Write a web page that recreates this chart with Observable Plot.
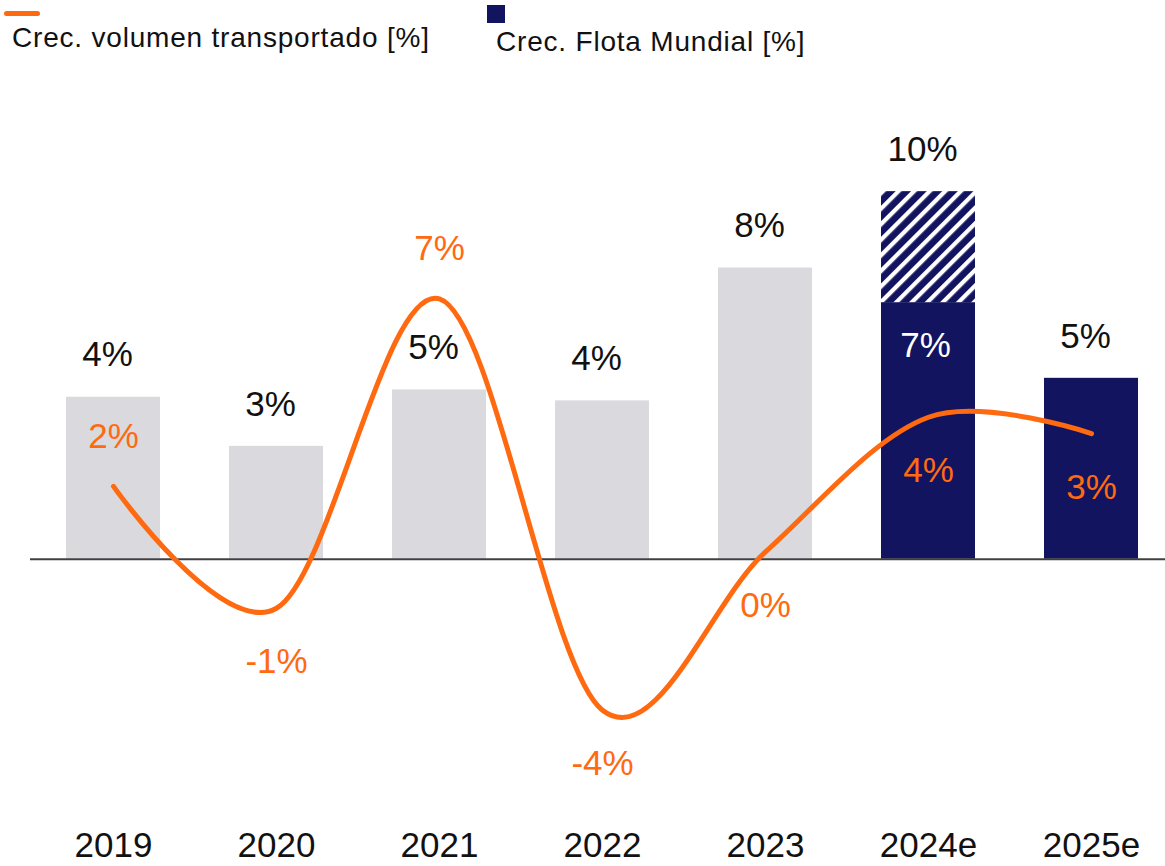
<!DOCTYPE html>
<html><head><meta charset="utf-8">
<script src="https://cdn.jsdelivr.net/npm/d3@7"></script>
<script src="https://cdn.jsdelivr.net/npm/@observablehq/plot@0.6"></script>
<style>
body{margin:0;background:#fff;font-family:"Liberation Sans",Arial,sans-serif;}
#legend{position:relative;height:60px;width:1165px;color:#111;}
#legend span{position:absolute;display:block;white-space:nowrap;}
.sw-line{left:4px;top:11px;width:36px;height:5px;background:#FF6A10;border-radius:3px;}
.sw-sq{left:487px;top:5px;width:18px;height:18px;background:#12145F;}
.lab{font-size:28px;line-height:28px;letter-spacing:0.8px;}
.lab1{left:12px;top:24px;}
.lab2{left:496px;top:28px;}
</style></head><body>
<div id="legend">
  <span class="sw-line"></span><span class="lab lab1">Crec. volumen transportado [%]</span>
  <span class="sw-sq"></span><span class="lab lab2">Crec. Flota Mundial [%]</span>
</div>
<div id="chart"></div>
<script>
const years = ["2019", "2020", "2021", "2022", "2023", "2024e", "2025e"];
const fleetGrowth = [4.45, 3.1, 4.65, 4.35, 8.0, 7.05, 4.97];
const fleetUpside = [null, null, null, null, null, 10.1, null];
const volumeGrowth = [2.0, -1.35, 7.15, -4.15, 0.2, 3.9, 3.45];
const isEstimate = [false, false, false, false, false, true, true];
const volumeLabelSide = ["above", "below", "above", "below", "below", "below", "below"];

const navy = "#12145F", gray = "#D9D9DE", orange = "#FF6A10";
const fmt = v => Math.round(v) + "%";

const bars = years.map((y, i) => ({year: y, value: fleetGrowth[i], est: isEstimate[i], upside: fleetUpside[i]}));
const upside = bars.filter(d => d.upside != null);
const topLabels = bars.map(d => ({year: d.year, top: d.upside != null ? d.upside : d.value}));
const innerLabels = upside.map(d => ({year: d.year, value: d.value}));
const volume = years.map((y, i) => ({year: y, value: volumeGrowth[i], side: volumeLabelSide[i]}));

const svg = Plot.plot({
  width: 1165,
  height: 806,
  marginLeft: 30,
  marginRight: 0,
  marginTop: 62,
  marginBottom: 89,
  style: {fontFamily: "'Liberation Sans', Arial, sans-serif", fontSize: "35px", color: "#111", background: "#fff"},
  x: {domain: years, paddingInner: 0.424, paddingOuter: 0.19, align: 0.565, label: null},
  y: {domain: [-6, 12], axis: null},
  marks: [
    Plot.barY(bars.filter(d => !d.est), {x: "year", y: "value", fill: gray}),
    Plot.barY(bars.filter(d => d.est), {x: "year", y: "value", fill: navy}),
    Plot.barY(upside, {x: "year", y1: "value", y2: "upside", fill: "url(#hatch)"}),
    Plot.ruleY([0], {stroke: "#404040", strokeWidth: 2}),
    Plot.lineY(volume, {x: "year", y: "value", curve: "cardinal", stroke: orange, strokeWidth: 5, strokeLinecap: "round"}),
    Plot.text(topLabels, {x: "year", y: "top", text: d => fmt(d.top), dy: -42, dx: -6, fill: "#111", fontSize: 35}),
    Plot.text(innerLabels, {x: "year", y: "value", text: d => fmt(d.value), dy: 43, dx: -3, fill: "#fff", fontSize: 35}),
    Plot.text(volume.filter(d => d.side === "above"), {x: "year", y: "value", text: d => fmt(d.value), dy: -50, fill: orange, fontSize: 35}),
    Plot.text(volume.filter(d => d.side === "below"), {x: "year", y: "value", text: d => fmt(d.value), dy: 54, fill: orange, fontSize: 35}),
    Plot.axisX({tickSize: 0, tickPadding: 55, fontSize: 35, fill: "#111", label: null})
  ]
});

const ns = "http://www.w3.org/2000/svg";
const defs = document.createElementNS(ns, "defs");
const pat = document.createElementNS(ns, "pattern");
pat.setAttribute("id", "hatch");
pat.setAttribute("patternUnits", "userSpaceOnUse");
pat.setAttribute("width", "11");
pat.setAttribute("height", "11");
pat.setAttribute("patternTransform", "rotate(45)");
const r = document.createElementNS(ns, "rect");
r.setAttribute("width", "11"); r.setAttribute("height", "11"); r.setAttribute("fill", navy);
const l = document.createElementNS(ns, "line");
l.setAttribute("x1", "2"); l.setAttribute("y1", "0"); l.setAttribute("x2", "2"); l.setAttribute("y2", "11");
l.setAttribute("stroke", "#fff"); l.setAttribute("stroke-width", "4.5");
pat.appendChild(r); pat.appendChild(l); defs.appendChild(pat);
svg.insertBefore(defs, svg.firstChild);

document.getElementById("chart").appendChild(svg);
</script>
</body></html>
